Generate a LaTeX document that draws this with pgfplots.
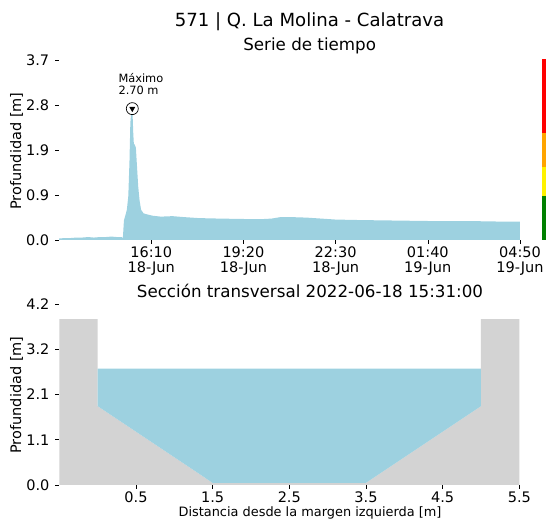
\documentclass[border=0pt]{standalone}
\usepackage{fontspec}
\setmainfont{DejaVu Sans}
\usepackage{pgfplots}
\usepackage{pgfplotstable}
\pgfplotsset{compat=1.18}
\newcommand\fs[1]{\fontsize{#1bp}{#1bp}\selectfont}

\definecolor{agua}{HTML}{9DD1E0}
\definecolor{suelo}{HTML}{D3D3D3}
\definecolor{naranja}{HTML}{FFA500}
\definecolor{verde}{HTML}{008000}

% depth [m] vs hours since 18-Jun 00:00
\pgfplotstableread{
t y
13.00 0.03
13.20 0.04
13.40 0.04
13.60 0.05
13.80 0.05
14.00 0.06
14.20 0.05
14.40 0.06
14.60 0.06
14.80 0.07
15.00 0.06
15.15 0.06
15.19 0.04
15.20 0.10
15.23 0.40
15.30 0.55
15.33 0.62
15.38 0.90
15.42 1.60
15.45 2.40
15.49 2.70
15.52 2.70
15.55 2.20
15.57 1.98
15.60 1.96
15.64 1.90
15.68 1.50
15.72 1.10
15.77 0.80
15.82 0.62
15.90 0.55
16.00 0.53
16.20 0.50
16.50 0.48
16.90 0.49
17.30 0.47
17.80 0.45
18.50 0.44
19.50 0.43
20.00 0.43
20.30 0.44
20.60 0.47
21.00 0.47
21.50 0.46
22.00 0.44
22.50 0.42
23.30 0.41
24.50 0.40
25.70 0.39
27.00 0.39
28.00 0.38
28.83 0.38
}\serie

\pgfplotsset{
  panel/.style={
    scale only axis, anchor=south west,
    axis line style={draw=none},
    xtick pos=left, ytick pos=left,
    tick align=outside, major tick length=4bp,
    tick style={black, line width=0.6pt},
    ticklabel style={font=\fontsize{14.5bp}{15bp}\selectfont},
    yticklabel style={inner sep=0pt, xshift=-5.7bp},
    xticklabel style={inner sep=0pt, yshift=-3bp},
  }
}

\begin{document}
\begin{tikzpicture}[x=1bp,y=1bp]
\path[use as bounding box] (0,0) rectangle (546,525);

\begin{axis}[panel,
  at={(59bp,285bp)}, width=461bp, height=180bp,
  xmin=13.0, xmax=28.8333, ymin=0, ymax=3.7,
  xtick={16.1667,19.3333,22.5,25.6667,28.8333},
  xticklabels={{16:10\\18-Jun},{19:20\\18-Jun},{22:30\\18-Jun},{01:40\\19-Jun},{04:50\\19-Jun}},
  xticklabel style={align=center},
  ytick={0,0.925,1.85,2.775,3.7},
  yticklabels={0.0,0.9,1.9,2.8,3.7},
  clip=false,
]
\addplot[fill=agua, draw=none] table[x=t, y=y] {\serie} \closedcycle;
\addplot[only marks, mark=*, mark size=6bp, mark options={fill=white, draw=black, line width=0.7pt}] coordinates {(15.517,2.70)};
\addplot[only marks, mark=triangle*, mark size=3bp, mark options={rotate=180, fill=black, draw=black}] coordinates {(15.517,2.70)};
\end{axis}

% alert levels bar
\begin{axis}[scale only axis, anchor=south west, at={(541.7bp,285bp)},
  width=4.3bp, height=180bp, xmin=0, xmax=1, ymin=0, ymax=3.7,
  hide axis, clip=false]
\addplot[fill=verde, draw=none] coordinates {(0,0) (1,0) (1,0.91) (0,0.91)} -- cycle;
\addplot[fill=yellow, draw=none] coordinates {(0,0.91) (1,0.91) (1,1.51) (0,1.51)} -- cycle;
\addplot[fill=naranja, draw=none] coordinates {(0,1.51) (1,1.51) (1,2.19) (0,2.19)} -- cycle;
\addplot[fill=red, draw=none] coordinates {(0,2.19) (1,2.19) (1,3.72) (0,3.72)} -- cycle;
\end{axis}

\begin{axis}[panel,
  at={(59.3bp,40bp)}, width=460bp, height=181bp,
  xmin=-0.5, xmax=5.5, ymin=0, ymax=4.2,
  xtick={0.5,1.5,2.5,3.5,4.5,5.5},
  xticklabels={0.5,1.5,2.5,3.5,4.5,5.5},
  ytick={0,1.05,2.1,3.15,4.2},
  yticklabels={0.0,1.1,2.1,3.2,4.2},
]
\addplot[fill=suelo, draw=none] coordinates {(-0.5,0) (-0.5,3.85) (0,3.85) (0,1.83) (1.5,0.05) (3.5,0.05) (5,1.83) (5,3.85) (5.5,3.85) (5.5,0)} -- cycle;
\addplot[fill=agua, draw=none] coordinates {(0,2.70) (0,1.83) (1.5,0.05) (3.5,0.05) (5,1.83) (5,2.70)} -- cycle;
\end{axis}

% titles and labels
\node[anchor=base, font=\fs{18.1}] at (309.5,498.3) {571 | Q. La Molina - Calatrava};
\node[anchor=base, font=\fs{16.7}] at (309.7,474) {Serie de tiempo};
\node[anchor=base, font=\fs{16.7}] at (310,227) {Sección transversal 2022-06-18 15:31:00};
\node[anchor=base, font=\fs{12.9}] at (310,8.6) {Distancia desde la margen izquierda [m]};
\node[rotate=90, font=\fs{14.5}] at (16.5,374) {Profundidad [m]};
\node[rotate=90, font=\fs{14.5}] at (16.5,130) {Profundidad [m]};
\node[anchor=base west, inner sep=0pt, font=\fs{11.4}] at (118.3,442.7) {Máximo};
\node[anchor=base west, inner sep=0pt, font=\fs{11.4}] at (118.3,430) {2.70 m};
\end{tikzpicture}
\end{document}
